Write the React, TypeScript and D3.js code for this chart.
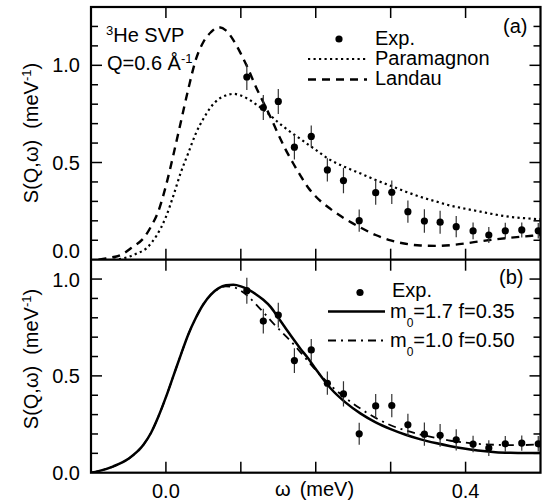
import React from "react";
import * as d3 from "d3";

// Experimental data (same in both panels)
const expOmega = [0.108, 0.130, 0.150, 0.1715, 0.194, 0.2155, 0.237, 0.258, 0.280, 0.3015, 0.323, 0.345, 0.366, 0.3875, 0.410, 0.431, 0.453, 0.475, 0.497];
const expS = [0.940, 0.783, 0.814, 0.579, 0.634, 0.462, 0.407, 0.201, 0.345, 0.347, 0.247, 0.199, 0.193, 0.170, 0.148, 0.127, 0.149, 0.153, 0.149];
const expErr = [0.067, 0.064, 0.064, 0.064, 0.056, 0.060, 0.065, 0.057, 0.062, 0.060, 0.057, 0.060, 0.059, 0.055, 0.043, 0.041, 0.041, 0.039, 0.040];

// Panel (a) theory curves
const landauOmega = [-0.09, -0.08, -0.06, -0.044, -0.03, -0.02, -0.01, 0.0, 0.01, 0.02, 0.03, 0.04, 0.05, 0.06, 0.07, 0.08, 0.09, 0.10, 0.11, 0.12, 0.13, 0.14, 0.15, 0.16, 0.17, 0.18, 0.19, 0.20, 0.22, 0.24, 0.26, 0.28, 0.30, 0.32, 0.34, 0.36, 0.38, 0.40, 0.42, 0.44, 0.46, 0.48, 0.50];
const landauS = [0.0, 0.007, 0.025, 0.067, 0.11, 0.17, 0.25, 0.38, 0.54, 0.71, 0.88, 1.03, 1.12, 1.17, 1.196, 1.18, 1.13, 1.06, 0.98, 0.89, 0.81, 0.73, 0.645, 0.565, 0.495, 0.43, 0.37, 0.325, 0.26, 0.208, 0.165, 0.127, 0.099, 0.082, 0.073, 0.071, 0.075, 0.084, 0.095, 0.105, 0.113, 0.12, 0.127];

const paraOmega = [-0.07, -0.057, -0.04, -0.026, -0.012, 0.0, 0.01, 0.02, 0.03, 0.04, 0.05, 0.06, 0.07, 0.08, 0.09, 0.10, 0.11, 0.12, 0.13, 0.14, 0.15, 0.16, 0.18, 0.20, 0.22, 0.24, 0.26, 0.28, 0.30, 0.32, 0.34, 0.36, 0.38, 0.40, 0.42, 0.44, 0.46, 0.48, 0.50];
const paraS = [0.0, 0.007, 0.03, 0.059, 0.127, 0.22, 0.33, 0.45, 0.55, 0.65, 0.725, 0.785, 0.825, 0.845, 0.853, 0.845, 0.826, 0.80, 0.772, 0.74, 0.706, 0.675, 0.62, 0.565, 0.512, 0.475, 0.443, 0.41, 0.38, 0.35, 0.323, 0.30, 0.278, 0.262, 0.247, 0.232, 0.22, 0.213, 0.208];

// Panel (b) theory curves
const fitOmega = [-0.1, -0.09, -0.07, -0.05, -0.03, -0.02, -0.01, 0.0, 0.01, 0.02, 0.03, 0.04, 0.05, 0.06, 0.07, 0.08, 0.09, 0.10, 0.11, 0.12, 0.13, 0.14, 0.15, 0.16, 0.17, 0.18, 0.19, 0.20, 0.22, 0.24, 0.26, 0.28, 0.30, 0.32, 0.34, 0.36, 0.38, 0.40, 0.42, 0.44, 0.46, 0.48, 0.50];
const fitA = [0.0, 0.008, 0.033, 0.072, 0.144, 0.205, 0.29, 0.39, 0.50, 0.61, 0.715, 0.80, 0.87, 0.92, 0.952, 0.968, 0.970, 0.962, 0.945, 0.922, 0.893, 0.855, 0.80, 0.745, 0.69, 0.638, 0.59, 0.535, 0.435, 0.362, 0.305, 0.26, 0.225, 0.196, 0.172, 0.153, 0.137, 0.124, 0.113, 0.106, 0.103, 0.102, 0.102];
const fitB = [0.0, 0.008, 0.033, 0.072, 0.144, 0.205, 0.29, 0.39, 0.50, 0.61, 0.715, 0.80, 0.87, 0.92, 0.950, 0.962, 0.958, 0.94, 0.91, 0.87, 0.83, 0.785, 0.745, 0.705, 0.665, 0.62, 0.575, 0.53, 0.45, 0.385, 0.33, 0.283, 0.245, 0.218, 0.197, 0.18, 0.165, 0.155, 0.148, 0.144, 0.142, 0.143, 0.146];

const xTicks = [0.0, 0.1, 0.2, 0.3, 0.4];
const xTickLabels = [{ v: 0.0, t: "0.0" }, { v: 0.4, t: "0.4" }];
const yMinorA = d3.range(1, 13).map((i) => i / 10);
const yMinorB = d3.range(1, 11).map((i) => i / 10);
const yMajor = [0.5, 1.0];

const FONT = "'Liberation Sans', Arial, Helvetica, sans-serif";
const L = 91, R = 540.5, T = 7, MID = 259.7, B = 472.7;

export default function App() {
  const x = d3.scaleLinear().domain([-0.1, 0.5]).range([L, R]);
  const yA = d3.scaleLinear().domain([0, 1.3]).range([MID, T]);
  const yB = d3.scaleLinear().domain([0, 1.1]).range([B, MID]);

  const mkLine = (xs: number[], ys: number[], y: d3.ScaleLinear<number, number>) =>
    d3.line<number>().x((_, i) => x(xs[i])).y((v) => y(v)).curve(d3.curveMonotoneX)(ys) || "";

  const expMarks = (y: d3.ScaleLinear<number, number>) =>
    expOmega.map((w, i) => (
      <g key={i}>
        <line x1={x(w)} x2={x(w)} y1={y(expS[i] - expErr[i])} y2={y(expS[i] + expErr[i])} stroke="#333" strokeWidth={1.2} />
        <circle cx={x(w)} cy={y(expS[i])} r={3.6} fill="#000" />
      </g>
    ));

  const yTickMarks = (y: d3.ScaleLinear<number, number>, minor: number[]) =>
    minor.map((v) => {
      const len = yMajor.includes(v) ? 11 : 7;
      return (
        <g key={v}>
          <line x1={L} x2={L + len} y1={y(v)} y2={y(v)} stroke="#000" strokeWidth={1.5} />
          <line x1={R} x2={R - len} y1={y(v)} y2={y(v)} stroke="#000" strokeWidth={1.5} />
        </g>
      );
    });

  return (
    <svg width={542} height={504} style={{ position: "absolute", left: 0, top: 0, background: "#fff" }} fontFamily={FONT}>
      <defs>
        <clipPath id="clipA"><rect x={L} y={T} width={R - L} height={MID - T} /></clipPath>
        <clipPath id="clipB"><rect x={L} y={MID} width={R - L} height={B - MID} /></clipPath>
      </defs>
      <rect x={0} y={0} width={542} height={504} fill="#fff" />

      {/* Panel (a) curves */}
      <g clipPath="url(#clipA)">
        <path d={mkLine(paraOmega, paraS, yA)} fill="none" stroke="#000" strokeWidth={2.2} strokeDasharray="2.2,3.3" />
        <path d={mkLine(landauOmega, landauS, yA)} fill="none" stroke="#000" strokeWidth={2.4} strokeDasharray="8,6" />
        {expMarks(yA)}
      </g>

      {/* Panel (b) curves */}
      <g clipPath="url(#clipB)">
        <path d={mkLine(fitOmega, fitB, yB)} fill="none" stroke="#000" strokeWidth={1.8} strokeDasharray="8,5,2,5" />
        <path d={mkLine(fitOmega, fitA, yB)} fill="none" stroke="#000" strokeWidth={2.5} />
        {expMarks(yB)}
      </g>

      {/* Frames */}
      <rect x={L} y={T} width={R - L} height={B - T} fill="none" stroke="#000" strokeWidth={2.2} />
      <line x1={L} x2={R} y1={MID} y2={MID} stroke="#000" strokeWidth={2.2} />

      {/* X ticks */}
      {xTicks.map((v) => (
        <g key={v}>
          <line x1={x(v)} x2={x(v)} y1={T} y2={T + 11} stroke="#000" strokeWidth={1.5} />
          <line x1={x(v)} x2={x(v)} y1={MID - 11} y2={MID + 11} stroke="#000" strokeWidth={1.5} />
          <line x1={x(v)} x2={x(v)} y1={B} y2={B - 11} stroke="#000" strokeWidth={1.5} />
        </g>
      ))}
      {yTickMarks(yA, yMinorA)}
      {yTickMarks(yB, yMinorB)}

      {/* Y tick labels */}
      <g fontSize={20} textAnchor="end" fill="#000">
        <text x={80} y={yA(1.0) + 7}>1.0</text>
        <text x={80} y={yA(0.5) + 7}>0.5</text>
        <text x={80} y={258}>0.0</text>
        <text x={80} y={yB(1.0) + 8}>1.0</text>
        <text x={80} y={yB(0.5) + 7}>0.5</text>
        <text x={80} y={yB(0.0) + 7}>0.0</text>
      </g>

      {/* X tick labels */}
      <g fontSize={20} textAnchor="middle">
        {xTickLabels.map((d) => (
          <text key={d.t} x={x(d.v)} y={498}>{d.t}</text>
        ))}
      </g>
      <text x={275} y={496} fontSize={20}>ω<tspan dx={9}>(meV)</tspan></text>

      {/* Y axis labels */}
      {[133, 359].map((cy) => (
        <text key={cy} transform={`translate(38,${cy}) rotate(-90)`} textAnchor="middle" fontSize={20}>
          S(Q,ω)<tspan dx={11}>(meV</tspan><tspan dy={-7} fontSize={13}>-1</tspan><tspan dy={7}>)</tspan>
        </text>
      ))}

      {/* Annotations */}
      <text x={106} y={41.5} fontSize={20}>
        <tspan fontSize={13} dy={-7}>3</tspan><tspan dy={7}>He SVP</tspan>
      </text>
      <text x={107} y={70} fontSize={20}>
        Q=0.6 Å<tspan fontSize={13} dy={-7}>-1</tspan>
      </text>
      <text x={503} y={33} fontSize={20}>(a)</text>
      <text x={499} y={284} fontSize={20}>(b)</text>

      {/* Legend (a) */}
      <circle cx={339} cy={39} r={3.6} fill="#000" />
      <text x={375} y={45} fontSize={20}>Exp.</text>
      <line x1={308} x2={367} y1={59} y2={59} stroke="#000" strokeWidth={2.2} strokeDasharray="2.2,3.3" />
      <text x={375} y={65} fontSize={20}>Paramagnon</text>
      <line x1={308} x2={367} y1={79.5} y2={79.5} stroke="#000" strokeWidth={2.4} strokeDasharray="8,6" />
      <text x={375} y={85} fontSize={20}>Landau</text>

      {/* Legend (b) */}
      <circle cx={360} cy={292.5} r={3.6} fill="#000" />
      <text x={392} y={297} fontSize={20}>Exp.</text>
      <line x1={328} x2={385} y1={311.5} y2={311.5} stroke="#000" strokeWidth={2.5} />
      <text x={390} y={318} fontSize={20}>
        m<tspan fontSize={12} dy={9}>0</tspan><tspan dy={-9}>=1.7 f=0.35</tspan>
      </text>
      <line x1={328} x2={385} y1={340.5} y2={340.5} stroke="#000" strokeWidth={1.8} strokeDasharray="8,5,2,5" />
      <text x={390} y={347} fontSize={20}>
        m<tspan fontSize={12} dy={9}>0</tspan><tspan dy={-9}>=1.0 f=0.50</tspan>
      </text>
    </svg>
  );
}
